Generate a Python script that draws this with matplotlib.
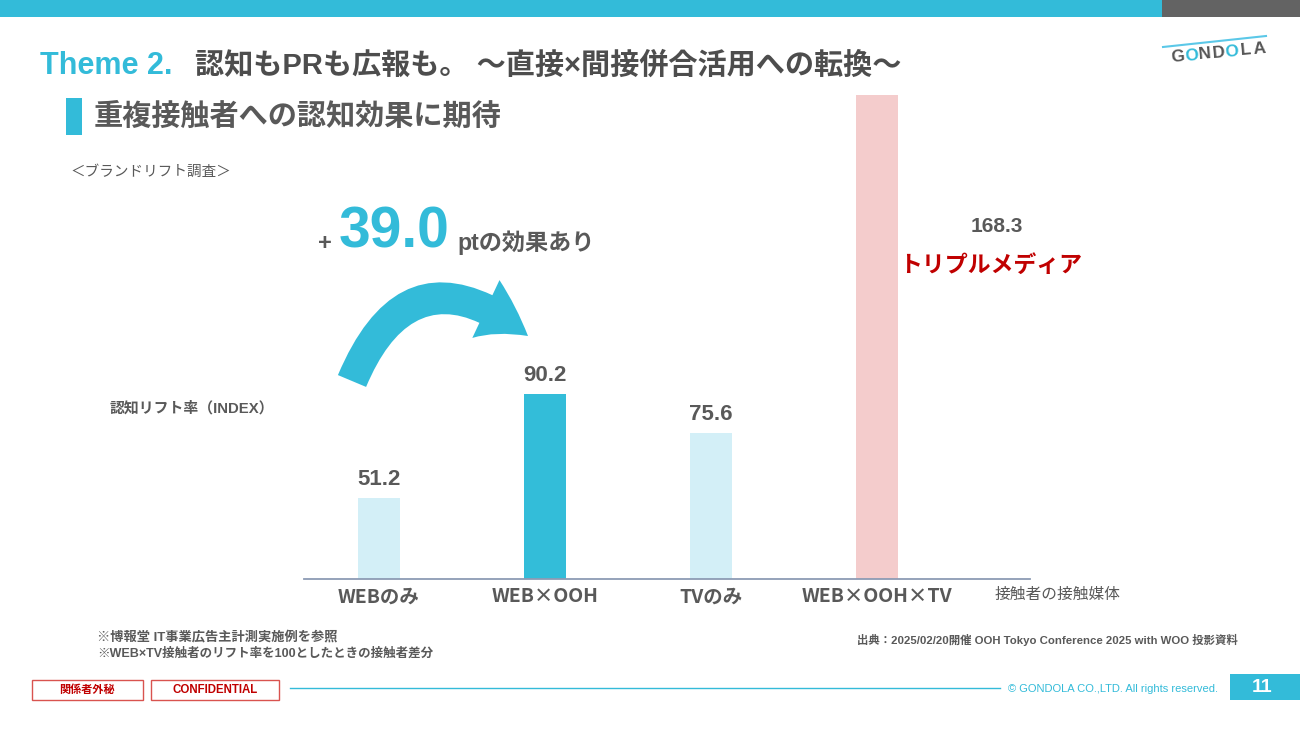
import numpy as np
import matplotlib
matplotlib.use('Agg')
import matplotlib.pyplot as plt
from matplotlib.patches import Rectangle, FancyArrowPatch
from matplotlib.lines import Line2D

plt.rcParams['font.family'] = ['Liberation Sans', 'Noto Sans CJK JP', 'DejaVu Sans']

# データ
categories = ['WEBのみ', 'WEB×OOH', 'TVのみ', 'WEB×OOH×TV']
values = [51.2, 90.2, 75.6, 168.3]
bar_colors = ['#D3EFF7', '#33BDD9', '#D3EFF7', '#F4CCCC']

title_theme = 'Theme 2.'
title_main = '認知もPRも広報も。 ～直接×間接併合活用への転換～'
subtitle = '重複接触者への認知効果に期待'
survey = '＜ブランドリフト調査＞'
ylabel = '認知リフト率（INDEX）'
xlabel = '接触者の接触媒体'
highlight = 'トリプルメディア'
notes = ['※博報堂 IT事業広告主計測実施例を参照',
         '※WEB×TV接触者のリフト率を100としたときの接触者差分']
source = '出典：2025/02/20開催 OOH Tokyo Conference 2025 with WOO 投影資料'

W, H = 1300, 731
CYAN = '#33BBD9'
GRAY = '#595959'
DARK = '#4D4D4D'
RED = '#C00000'

fig = plt.figure(figsize=(W / 100, H / 100), dpi=100)


def X(px):
    return px / W


def Y(py):
    return 1 - py / H


def txt(px, py, s, size, color=GRAY, weight='bold', ha='left', va='center', **kw):
    fig.text(X(px), Y(py), s, fontsize=size, color=color, fontweight=weight,
             ha=ha, va=va, **kw)


def rect(x0, y0, x1, y1, **kw):
    fig.patches.append(Rectangle((X(x0), Y(y1)), X(x1) - X(x0), Y(y0) - Y(y1),
                                 transform=fig.transFigure, **kw))


# 上部の帯
rect(0, 0, 1162, 17, facecolor=CYAN, edgecolor='none')
rect(1162, 0, 1300, 17, facecolor='#636363', edgecolor='none')

# タイトル
txt(40, 66, title_theme, 22, color=CYAN)
txt(195, 66, title_main, 21, color=DARK)
rect(66, 98, 82, 135, facecolor=CYAN, edgecolor='none')
txt(94, 117, subtitle, 21, color=GRAY)
txt(70, 172, survey, 10.5, color=GRAY, weight='normal')

# ロゴ
fig.lines.append(Line2D([X(1163), X(1266)], [Y(47), Y(36)], color='#5BC8E8',
                        lw=1.5, transform=fig.transFigure))
logo_cols = ['#555555', CYAN, '#555555', '#555555', CYAN, '#555555', '#555555']
for i, (ch, c) in enumerate(zip('GONDOLA', logo_cols)):
    txt(1178 + i * 13.5, 57 - i * 1.3, ch, 12.5, color=c, ha='center', rotation=5)

# グラフ本体
ax = fig.add_axes([X(304), Y(579), X(1030) - X(304), Y(95) - Y(579)])

# 元資料は最後の棒を誇張しているため区分線形スケールで再現
brk = values[1]
k = 1.435


def fwd(v):
    v = np.asarray(v, dtype=float)
    return np.where(v <= brk, v, brk + (v - brk) * k)


def inv(u):
    u = np.asarray(u, dtype=float)
    return np.where(u <= brk, u, brk + (u - brk) / k)


ax.set_yscale('function', functions=(fwd, inv))
x = np.arange(len(categories))
ax.bar(x, values, width=0.253, color=bar_colors, zorder=2)
ax.set_xlim(-0.452, 3.92)
ax.set_ylim(20.8, values[3])

for sp in ['top', 'right', 'left']:
    ax.spines[sp].set_visible(False)
ax.spines['bottom'].set_color('#8C9BB4')
ax.spines['bottom'].set_linewidth(1.3)
ax.set_yticks([])
ax.yaxis.set_minor_locator(matplotlib.ticker.NullLocator())
ax.set_xticks(x, categories)
ax.tick_params(axis='x', length=0, pad=6, labelsize=14, labelcolor=GRAY)
for lab in ax.get_xticklabels():
    lab.set_fontweight('bold')
    lab.set_family(['Noto Sans CJK JP'])
ax.patch.set_alpha(0)

for xi, v in zip(x[:3], values[:3]):
    ax.annotate(f'{v:.1f}', (xi, v), xytext=(0, 6), textcoords='offset points',
                ha='center', va='bottom', fontsize=16, fontweight='bold', color=GRAY)

txt(997, 226, f'{values[3]:.1f}', 15, ha='center')
txt(991, 265, highlight, 16.5, color=RED, ha='center')

txt(110, 408, ylabel, 10.7)
txt(995, 594, xlabel, 11.3, weight='normal')

# 差分の強調
diff = values[1] - values[0]
txt(325, 244, '+', 17, ha='center')
txt(339, 233, f'{diff:.1f}', 41, color=CYAN)
txt(457, 243, 'ptの効果あり', 16.7)

arrow = FancyArrowPatch((X(352), Y(381)), (X(528), Y(336)),
                        transform=fig.transFigure,
                        connectionstyle='arc3,rad=-0.66',
                        arrowstyle='simple,head_length=36,head_width=46,tail_width=22',
                        mutation_scale=1, shrinkA=0, shrinkB=0,
                        color=CYAN, lw=0)
fig.patches.append(arrow)

# 注記
txt(97, 637, notes[0], 9.5)
txt(97, 654, notes[1], 9)
txt(857, 640, source, 8.2)

# フッター
rect(32, 680, 143, 700, facecolor='white', edgecolor='#D9534F', lw=1)
txt(87, 690, '関係者外秘', 8, color=RED, ha='center')
rect(151, 680, 279, 700, facecolor='white', edgecolor='#D9534F', lw=1)
txt(215, 690, 'CONFIDENTIAL', 8.3, color=RED, ha='center')
fig.lines.append(Line2D([X(290), X(1000)], [Y(688), Y(688)], color=CYAN,
                        lw=1, transform=fig.transFigure))
txt(1008, 689, '© GONDOLA CO.,LTD. All rights reserved.', 8, color=CYAN, weight='normal')
rect(1230, 674, 1300, 700, facecolor=CYAN, edgecolor='none')
txt(1262, 688, '11', 14, color='white', ha='center')

fig.savefig('out.png', dpi=100)
